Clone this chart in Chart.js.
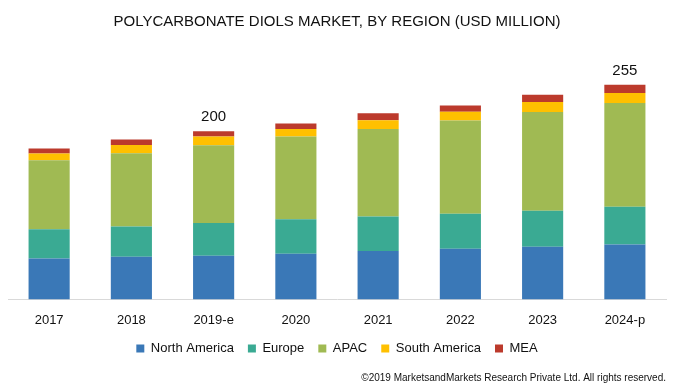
<!DOCTYPE html>
<html>
<head>
<meta charset="utf-8">
<script src="https://cdn.jsdelivr.net/npm/chart.js@4"></script>
<style>
  html, body { margin: 0; padding: 0; background: #fff; }
  #wrap { width: 683px; height: 390px; }
</style>
</head>
<body>
<div id="wrap"><canvas id="regionChart"></canvas></div>
<script>
// Market values (USD million)
const years = ['2017', '2018', '2019-e', '2020', '2021', '2022', '2023', '2024-p'];
const northAmerica = [48.7, 50.6, 51.8, 54.2, 57.4, 60.1, 62.5, 65.4];
const europe       = [34.7, 35.9, 39.1, 41.1, 41.0, 41.8, 43.0, 44.6];
const apac         = [82.0, 87.3, 92.4, 98.4, 104.0, 110.8, 117.2, 123.4];
const southAmerica = [8.0, 9.6, 10.4, 8.7, 10.4, 10.4, 12.0, 12.0];
const mea          = [6.0, 6.8, 6.3, 6.8, 8.4, 7.5, 8.4, 9.6];
const totalLabels  = ['', '', '200', '', '', '', '', '255'];

/**
 * Draws the total value above selected bars
 */
const totalsPlugin = {
    id: 'totals',
    afterDatasetsDraw: function(chart) {
        const ctx = chart.ctx;
        const lastMeta = chart.getDatasetMeta(chart.data.datasets.length - 1);
        ctx.save();
        ctx.font = '15px "Liberation Sans", Arial, sans-serif';
        ctx.fillStyle = '#111';
        ctx.textAlign = 'center';
        ctx.textBaseline = 'bottom';
        totalLabels.forEach(function(label, i) {
            if (!label) return;
            const bar = lastMeta.data[i];
            ctx.fillText(label, bar.x, bar.y - 7);
        });
        ctx.restore();
    }
};

document.addEventListener('DOMContentLoaded', function() {
    Chart.defaults.font.family = '"Liberation Sans", Arial, sans-serif';
    Chart.defaults.color = '#222';

    const ctx = document.getElementById('regionChart');
    new Chart(ctx, {
        type: 'bar',
        data: {
            labels: years,
            datasets: [
                { label: 'North America', data: northAmerica, backgroundColor: '#3a78b7' },
                { label: 'Europe', data: europe, backgroundColor: '#3aaa93' },
                { label: 'APAC', data: apac, backgroundColor: '#a0ba53' },
                { label: 'South America', data: southAmerica, backgroundColor: '#ffc000' },
                { label: 'MEA', data: mea, backgroundColor: '#bc3a2c' }
            ]
        },
        options: {
            responsive: true,
            maintainAspectRatio: false,
            animation: false,
            datasets: {
                bar: {
                    categoryPercentage: 1.0,
                    barPercentage: 0.5
                }
            },
            layout: {
                padding: { left: 8, right: 17, top: 0, bottom: 2 }
            },
            scales: {
                x: {
                    stacked: true,
                    grid: { display: false },
                    border: { color: '#d9d9d9', width: 1 },
                    ticks: { font: { size: 13 }, color: '#111', padding: 5 },
                    // tighten the gap between the tick labels and the legend
                    afterFit: function(axis) {
                        axis.height -= 5;
                    }
                },
                y: {
                    stacked: true,
                    display: false,
                    min: 0,
                    max: 300
                }
            },
            plugins: {
                title: {
                    display: true,
                    text: 'POLYCARBONATE DIOLS MARKET, BY REGION (USD MILLION)',
                    font: { size: 15, weight: 'normal' },
                    color: '#111',
                    padding: { top: 13, bottom: 16 }
                },
                legend: {
                    position: 'bottom',
                    labels: {
                        boxWidth: 8,
                        boxHeight: 8,
                        padding: 14,
                        font: { size: 13 },
                        color: '#111'
                    }
                },
                subtitle: {
                    display: true,
                    position: 'bottom',
                    align: 'end',
                    text: '\u00a92019 MarketsandMarkets Research Private Ltd. All rights reserved.',
                    font: { size: 10 },
                    color: '#111',
                    padding: { top: 7, bottom: 4 }
                },
                tooltip: { enabled: false }
            }
        },
        plugins: [totalsPlugin]
    });
});
</script>
</body>
</html>
